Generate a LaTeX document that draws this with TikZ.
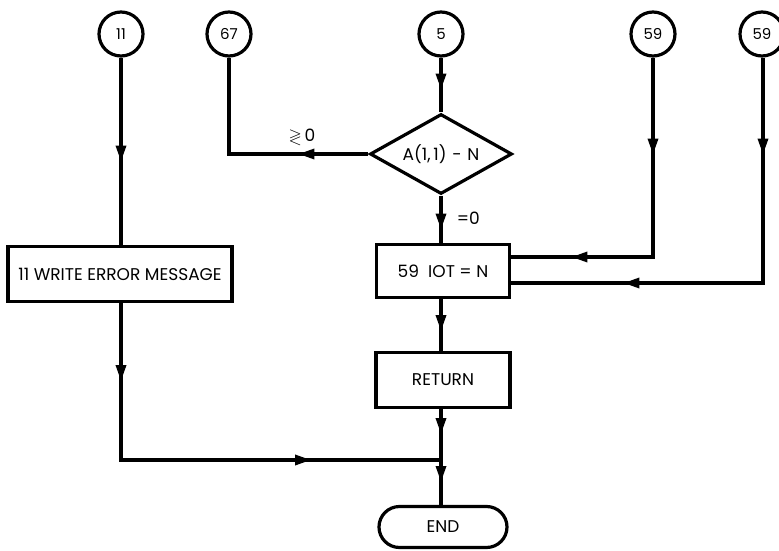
\documentclass[tikz,border=0pt]{standalone}
\usepackage{amssymb}
\usepackage{fontspec}
\setmainfont{Poppins}
\usetikzlibrary{shapes.geometric,shapes.misc,decorations.markings,arrows.meta}
\begin{document}
\begin{tikzpicture}[x=1pt,y=-1pt,
  line width=3.2pt,
  every node/.style={font=\fontsize{17}{20}\selectfont},
  conn/.style={circle,draw,minimum size=44pt,inner sep=0pt,font=\fontsize{15}{17}\selectfont},
  procbox/.style={rectangle,draw,inner sep=0pt},
  decbox/.style={diamond,draw,inner sep=0pt,shape aspect=1.8,minimum width=142pt,minimum height=80pt},
  termbox/.style={rounded rectangle,draw,inner sep=0pt,minimum width=128pt,minimum height=41pt},
  tipmark/.style={decoration={markings,mark=at position #1 with {\arrow{Triangle[length=16pt,width=10pt]}}}},
  flow/.style={postaction={decorate}}
]
\useasboundingbox (0,0) rectangle (779,551);
\node[conn] (c11) at (121,34) {11};
\node[conn] (c67) at (229,34) {67};
\node[conn] (c5) at (441,34) {5};
\node[conn] (c59a) at (653,34) {59};
\node[conn] (c59b) at (762,34) {59};
\node[decbox] (dec) at (441,154) {A(1,\,1)\,\,-\,\,N};
\node[procbox,minimum width=133pt,minimum height=53pt] (iot) at (443,271) {59\ \ IOT = N};
\node[procbox,minimum width=134pt,minimum height=55pt] (ret) at (443,380) {RETURN};
\node[termbox] (endn) at (443,527) {END};
\node[procbox,minimum width=224pt,minimum height=55pt] (err) at (120,274) {11 WRITE ERROR MESSAGE};
\coordinate (J) at (441,460);
\coordinate (k67) at (229,154);
\coordinate (kerr) at (121,460);
\coordinate (k59a) at (653,257);
\coordinate (k59b) at (763,283);

\draw[flow,tipmark=104pt] (c11) -- (c11|-err.north);
\draw[flow,decoration={markings,mark=at position 78pt with {\arrow{Triangle[length=16pt,width=10pt]}},mark=at position 347pt with {\arrow{Triangle[length=16pt,width=10pt]}}}] (err.south-|c11) -- (kerr) -- (J);
\draw[flow,tipmark=70pt] (dec.west) -- (k67) -- (c67.south);
\draw[flow,tipmark=32pt] (c5) -- (dec.north);
\draw[flow,tipmark=34pt] (dec.south) -- (dec.south|-iot.north);
\draw[flow,tipmark=32pt] (iot.south-|dec.south) -- (ret.north-|dec.south);
\draw[flow,tipmark=25pt] (ret.south-|dec.south) -- (J);
\draw[flow,tipmark=22pt] (J) -- (endn.north-|J);
\draw[flow,decoration={markings,mark=at position 97pt with {\arrow{Triangle[length=16pt,width=10pt]}},mark=at position 281pt with {\arrow{Triangle[length=16pt,width=10pt]}}}] (c59a) -- (k59a) -- (k59a-|iot.east);
\draw[flow,decoration={markings,mark=at position 97pt with {\arrow{Triangle[length=16pt,width=10pt]}},mark=at position 365pt with {\arrow{Triangle[length=16pt,width=10pt]}}}] (c59b.south-|k59b) -- (k59b) -- (k59b-|iot.east);

\node[anchor=west] (lbl0) at (452,218) {=0};
\node (lblg) at (302,137) {$\gtrless$\,0};
\end{tikzpicture}
\end{document}
